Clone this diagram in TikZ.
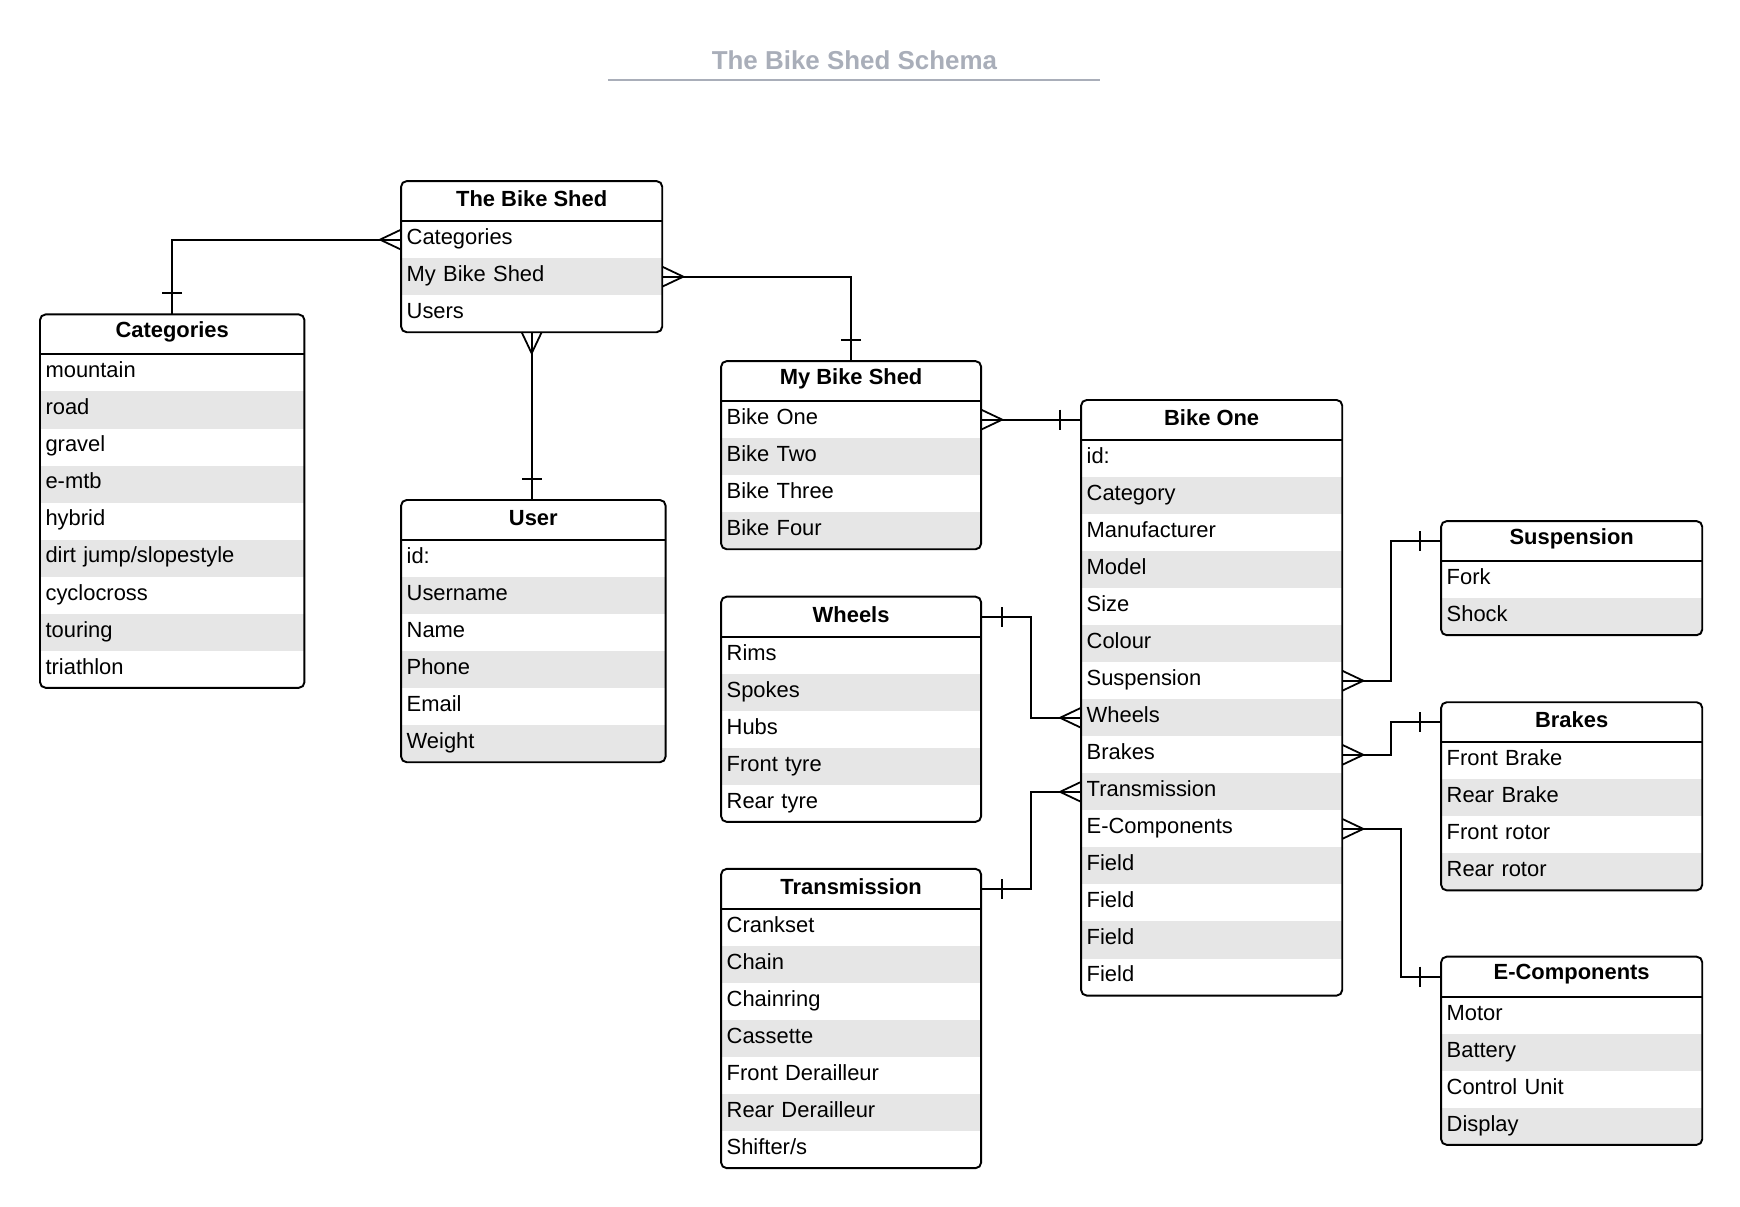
\documentclass[tikz,border=0pt]{standalone}
\usepackage{fontspec}
\setmainfont{Liberation Sans}
\usetikzlibrary{calc}

\definecolor{rowgray}{HTML}{E6E6E6}
\definecolor{titlegray}{HTML}{A9AEB9}

% one table: name, x, y, width, title, rows
\newcommand{\erdtable}[6]{%
  \foreach [count=\i] \r in {#6} {\xdef\nrows{\i}}
  \pgfmathsetmacro\tabh{36+33.333*\nrows}
  \pgfmathsetmacro\tw{#4*0.75-7.5}
  \pgfmathsetmacro\fw{#4*0.75}
  \pgfmathsetmacro\fh{\tabh*0.75}
  \begin{scope}
    \clip[rounded corners=3.75pt] (#2,#3) rectangle ++(#4,\tabh);
    \foreach [count=\i] \r in {#6} {
      \pgfmathsetmacro\ry{#3+36+33.333*(\i-0.5)}
      \ifodd\i \def\rowfill{none}\else \def\rowfill{rowgray}\fi
      \node[rowcell, fill=\rowfill, text width=\tw pt] (#1-\i) at (#2+#4/2,\ry) {\r};
    }
  \end{scope}
  \node[tablebox, minimum width=\fw pt, minimum height=\fh pt, anchor=north west] (#1) at (#2,#3) {};
  \draw[line width=1.3pt] (#2,#3+36) -- ++(#4,0);
  \node[headtext] (#1-title) at (#2+#4/2,#3+16) {#5};
}

\tikzset{
  tablebox/.style={draw, line width=1.3pt, rounded corners=3.75pt, inner sep=0pt, outer sep=0pt},
  rowcell/.style={inner xsep=3.75pt, inner ysep=0pt, outer sep=0pt, minimum height=25pt,
    text height=11pt, text depth=4.5pt, align=left, font=\fontsize{14.8}{18}\selectfont},
  headtext/.style={font=\fontsize{14.8}{18}\selectfont\bfseries, inner sep=0pt},
  link/.style={draw, line width=1.2pt},
  crow/.pic={\draw[line width=1.2pt] (0,9) -- (19,0) -- (0,-9);},
  onebar/.pic={\draw[line width=1.2pt] (19,9) -- (19,-9);},
}

\begin{document}
\begin{tikzpicture}[x=0.75pt,y=-0.75pt]
  \useasboundingbox (0,0) rectangle (1566,1086);

  % title
  \node[font=\fontsize{17.5}{21}\selectfont\bfseries, text=titlegray] (title) at (769,54) {The Bike Shed Schema};
  \draw[titlegray, line width=1.4pt] (547,72) -- (990,72);

  % tables
  \erdtable{shed}{361}{163}{235}{The Bike Shed}{Categories,My Bike Shed,Users}
  \erdtable{cats}{36}{283}{238}{Categories}{mountain,road,gravel,e-mtb,hybrid,dirt jump/slopestyle,cyclocross,touring,triathlon}
  \erdtable{user}{361}{450}{238}{User}{id:,Username,Name,Phone,Email,Weight}
  \erdtable{myshed}{649}{325}{234}{My Bike Shed}{Bike One,Bike Two,Bike Three,Bike Four}
  \erdtable{bikeone}{973}{360}{235}{Bike One}{id:,Category,Manufacturer,Model,Size,Colour,Suspension,Wheels,Brakes,Transmission,E-Components,Field,Field,Field,Field}
  \erdtable{susp}{1297}{469}{235}{Suspension}{Fork,Shock}
  \erdtable{brakes}{1297}{632}{235}{Brakes}{Front Brake,Rear Brake,Front rotor,Rear rotor}
  \erdtable{ecomp}{1297}{861}{235}{E-Components}{Motor,Battery,Control Unit,Display}
  \erdtable{wheels}{649}{537}{234}{Wheels}{Rims,Spokes,Hubs,Front tyre,Rear tyre}
  \erdtable{trans}{649}{782}{234}{Transmission}{Crankset,Chain,Chainring,Cassette,Front Derailleur,Rear Derailleur,Shifter/s}

  % relations
  \draw[link] (shed-1.west) -| (cats.north)
    pic[rotate=180] at (shed-1.west) {crow}
    pic[rotate=90] at (cats.north) {onebar};
  \draw[link] (shed-2.east) -| (myshed.north)
    pic at (shed-2.east) {crow}
    pic[rotate=90] at (myshed.north) {onebar};
  \draw[link] (shed.south) -- (shed.south |- user.north)
    pic[rotate=-90] at (shed.south) {crow}
    pic[rotate=90] at (shed.south |- user.north) {onebar};
  \draw[link] (myshed-1.east) -- (myshed-1.east -| bikeone.west)
    pic at (myshed-1.east) {crow}
    pic[rotate=180] at (myshed-1.east -| bikeone.west) {onebar};
  \draw[link] (bikeone-7.east) -- ++(44,0) |- ($(susp.north west)+(0,18)$)
    pic at (bikeone-7.east) {crow}
    pic[rotate=180] at ($(susp.north west)+(0,18)$) {onebar};
  \draw[link] (bikeone-8.west) -- ++(-45,0) |- ($(wheels.north east)+(0,18)$)
    pic[rotate=180] at (bikeone-8.west) {crow}
    pic at ($(wheels.north east)+(0,18)$) {onebar};
  \draw[link] (bikeone-9.east) -- ++(44,0) |- ($(brakes.north west)+(0,18)$)
    pic at (bikeone-9.east) {crow}
    pic[rotate=180] at ($(brakes.north west)+(0,18)$) {onebar};
  \draw[link] (bikeone-10.west) -- ++(-45,0) |- ($(trans.north east)+(0,18)$)
    pic[rotate=180] at (bikeone-10.west) {crow}
    pic at ($(trans.north east)+(0,18)$) {onebar};
  \draw[link] (bikeone-11.east) -- ++(53,0) |- ($(ecomp.north west)+(0,18)$)
    pic at (bikeone-11.east) {crow}
    pic[rotate=180] at ($(ecomp.north west)+(0,18)$) {onebar};
\end{tikzpicture}
\end{document}
